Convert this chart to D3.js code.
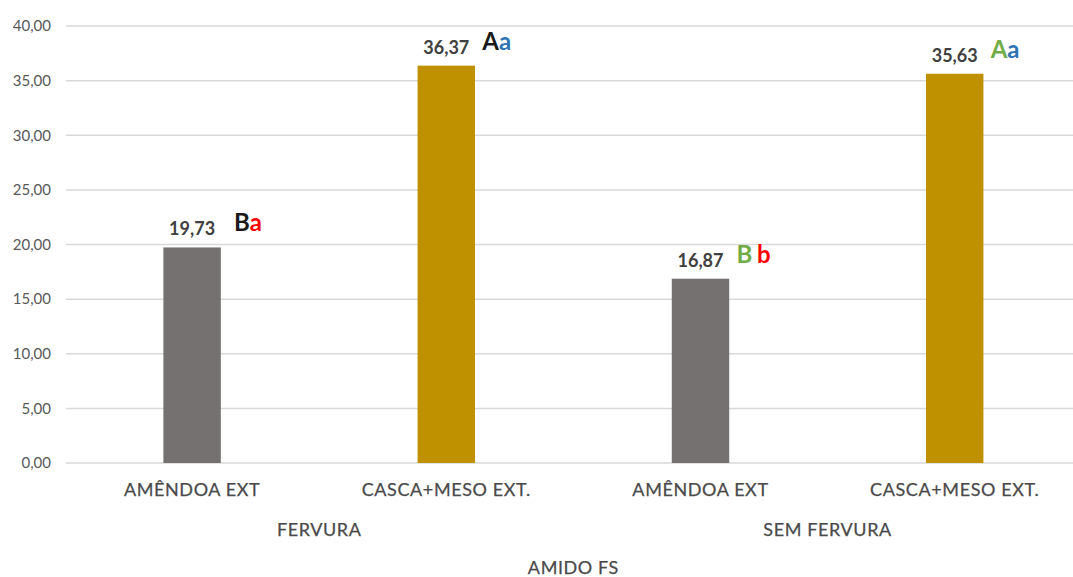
<!DOCTYPE html>
<html>
<head>
<meta charset="utf-8">
<script src="https://cdn.jsdelivr.net/npm/d3@7"></script>
<style>
  html, body { margin: 0; padding: 0; background: #fff; }
  svg { display: block; font-family: Lato, "Open Sans", sans-serif; }
</style>
</head>
<body>
<svg id="chart" width="1073" height="577"></svg>
<script>
// Amido FS by fraction and treatment
const categories = ["AMÊNDOA EXT", "CASCA+MESO EXT.", "AMÊNDOA EXT", "CASCA+MESO EXT."];
const groups = ["FERVURA", "SEM FERVURA"];
const values = [19.73, 36.37, 16.87, 35.63];
const barColors = ["#767171", "#BF9000", "#767171", "#BF9000"];
// significance letters: upper-case (between treatments), lower-case (between fractions)
const upperLetters = ["B", "A", "B", "A"];
const upperColors = ["#1a1a1a", "#1a1a1a", "#70AD47", "#70AD47"];
const lowerLetters = ["a", "a", "b", "a"];
const lowerColors = ["#FF0000", "#2E75B6", "#FF0000", "#2E75B6"];
const yTicks = [0, 5, 10, 15, 20, 25, 30, 35, 40];
const axisTitle = "AMIDO FS";

(function () {
const svg = d3.select("#chart");
const plotLeft = 66, plotRight = 1073, plotTop = 26, plotBottom = 463;
const bandStart = 65, bandStep = 254.2;

const x = d3.scaleBand().domain(d3.range(categories.length))
  .range([bandStart, bandStart + bandStep * categories.length])
  .paddingInner(0.774).paddingOuter(0.387);
const y = d3.scaleLinear().domain([0, 40]).range([plotBottom, plotTop]);
const fmt = v => d3.format(".2f")(v).replace(".", ",");
const cx = i => x(i) + x.bandwidth() / 2;

// gridlines
svg.append("g").selectAll("line").data(yTicks).join("line")
  .attr("x1", plotLeft).attr("x2", plotRight)
  .attr("y1", d => y(d)).attr("y2", d => y(d))
  .attr("stroke", "#d9d9d9").attr("stroke-width", 1.5);

// y axis labels
const yAxis = svg.append("g").attr("transform", `translate(${plotLeft},0)`)
  .call(d3.axisLeft(y).tickValues(yTicks).tickFormat(fmt).tickSize(0).tickPadding(15));
yAxis.select(".domain").remove();
yAxis.selectAll("text").attr("fill", "#595959").style("font-size", "15px")
  .style("font-family", "Lato, 'Open Sans', sans-serif");

// bars
svg.append("g").selectAll("rect").data(values).join("rect")
  .attr("x", (d, i) => x(i)).attr("width", x.bandwidth())
  .attr("y", d => y(d)).attr("height", d => y(0) - y(d))
  .attr("fill", (d, i) => barColors[i]);

// value labels
svg.append("g").selectAll("text").data(values).join("text")
  .attr("x", (d, i) => cx(i))
  .attr("y", d => y(d) - 12)
  .attr("text-anchor", "middle")
  .attr("fill", "#404040").style("font-size", "18px").style("font-weight", "bold")
  .text(d => fmt(d));

// significance letters
const letters = svg.append("g").selectAll("text").data(values).join("text")
  .attr("x", (d, i) => cx(i) + (i === 0 ? 42 : 36))
  .attr("y", d => y(d) - 16)
  .style("font-size", "24px").style("font-weight", "bold");
letters.append("tspan").attr("fill", (d, i) => upperColors[i]).text((d, i) => upperLetters[i]);
letters.append("tspan").attr("fill", (d, i) => lowerColors[i])
  .attr("dx", (d, i) => i === 2 ? 5 : 0)
  .text((d, i) => lowerLetters[i]);

// shared style for the axis captions
const caption = sel => sel.attr("text-anchor", "middle").attr("fill", "#4a4a4a")
  .style("font-size", "18px").style("letter-spacing", "0.6px")
  .attr("stroke", "#4a4a4a").attr("stroke-width", 0.25);

// category labels
svg.append("g").selectAll("text").data(categories).join("text")
  .attr("x", (d, i) => cx(i)).attr("y", 496)
  .call(caption)
  .text(d => d);

// group labels
svg.append("g").selectAll("text").data(groups).join("text")
  .attr("x", (d, i) => (cx(2 * i) + cx(2 * i + 1)) / 2).attr("y", 536)
  .call(caption)
  .text(d => d);

// axis title
svg.append("text").attr("x", (cx(1) + cx(2)) / 2).attr("y", 574)
  .call(caption)
  .text(axisTitle);
})();
</script>
</body>
</html>
